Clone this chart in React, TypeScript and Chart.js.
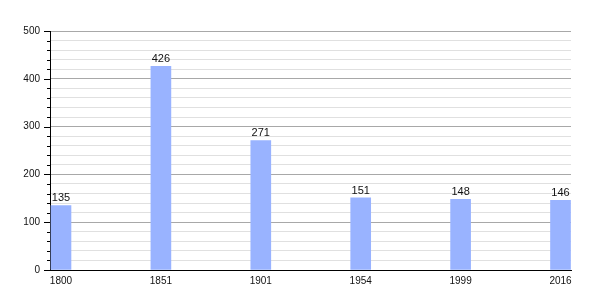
import React, { useEffect, useRef } from "react";
import { Chart, registerables } from "chart.js";

Chart.register(...registerables);

const years = ["1800", "1851", "1901", "1954", "1999", "2016"];
const population = [135, 426, 271, 151, 148, 146];
const yMax = 500;
const yMinorStep = 20;
const yMajorStep = 100;

const FONT = "'Liberation Sans', Arial, sans-serif";

const tickMarks = {
  id: "tickMarks",
  afterDraw(chart: any) {
    const y = chart.scales.y;
    const ctx = chart.ctx;
    const left = chart.chartArea.left;
    ctx.save();
    ctx.strokeStyle = "#000";
    ctx.lineWidth = 1;
    for (let v = 0; v <= yMax; v += yMinorStep) {
      const py = Math.round(y.getPixelForValue(v)) + 0.5;
      const len = v % yMajorStep === 0 ? 6 : 3;
      ctx.beginPath();
      ctx.moveTo(left - len, py);
      ctx.lineTo(left, py);
      ctx.stroke();
    }
    ctx.restore();
  },
};

const valueLabels = {
  id: "valueLabels",
  afterDatasetsDraw(chart: any) {
    const ctx = chart.ctx;
    const meta = chart.getDatasetMeta(0);
    ctx.save();
    ctx.fillStyle = "#111";
    ctx.font = `11px ${FONT}`;
    ctx.textAlign = "center";
    ctx.textBaseline = "alphabetic";
    meta.data.forEach((el: any, i: number) => {
      ctx.fillText(String(population[i]), el.x, el.y - 4);
    });
    ctx.restore();
  },
};

export default function App() {
  const ref = useRef<HTMLCanvasElement | null>(null);
  useEffect(() => {
    if (!ref.current) return;
    const chart = new Chart(ref.current, {
      type: "bar",
      data: {
        datasets: [
          {
            data: population.map((v, i) => ({ x: i, y: v })),
            backgroundColor: "#99b3ff",
            borderWidth: 0,
            barThickness: 20,
          },
        ],
      },
      options: {
        animation: false,
        responsive: false,
        layout: { padding: { top: 31, right: 29, left: 0, bottom: 0 } },
        plugins: { legend: { display: false }, tooltip: { enabled: false } },
        scales: {
          x: {
            type: "linear",
            min: -0.11,
            max: 5.105,
            offset: false,
            grid: { display: false, drawTicks: false },
            border: { display: true, color: "#000", width: 1 },
            afterBuildTicks: (scale: any) => {
              scale.ticks = years.map((_, i) => ({ value: i }));
            },
            afterFit: (scale: any) => {
              scale.height = 30;
            },
            ticks: {
              autoSkip: false,
              maxRotation: 0,
              padding: 5,
              color: "#111",
              font: { family: FONT, size: 10 },
              callback: (v: any) => years[v] ?? "",
            },
          },
          y: {
            min: 0,
            max: yMax,
            afterFit: (scale: any) => {
              scale.width = 50;
            },
            grid: {
              drawTicks: false,
              color: (c: any) =>
                c.tick && c.tick.value % yMajorStep === 0 ? "#a8a8a8" : "#e0e0e0",
            },
            border: { display: true, color: "#000", width: 1 },
            ticks: {
              stepSize: yMinorStep,
              autoSkip: false,
              padding: 10,
              color: "#111",
              font: { family: FONT, size: 10 },
              callback: (v: any) => (v % yMajorStep === 0 ? String(v) : ""),
            },
          },
        },
      },
      plugins: [tickMarks, valueLabels],
    });
    return () => chart.destroy();
  }, []);
  return (
    <div style={{ position: "fixed", left: 0, top: 0, width: 600, height: 300, background: "#fff" }}>
      <canvas ref={ref} width={600} height={300} style={{ display: "block" }} />
    </div>
  );
}
